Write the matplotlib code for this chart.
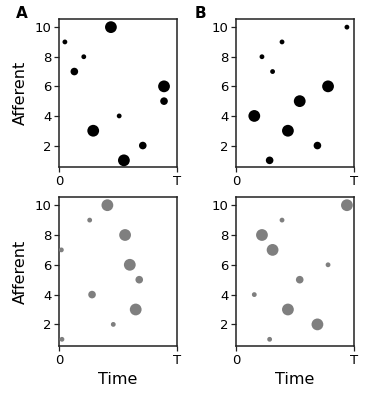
import matplotlib
matplotlib.use("Agg")
import matplotlib.pyplot as plt

# afferent index 1..10 for each panel
afferents = [10, 9, 8, 7, 6, 5, 4, 3, 2, 1]

# spike times as a fraction of T, read top (afferent 10) to bottom (afferent 1)
times_a_top = [0.44, 0.05, 0.21, 0.13, 0.89, 0.89, 0.51, 0.29, 0.71, 0.55]
times_b_top = [0.94, 0.39, 0.22, 0.31, 0.78, 0.54, 0.155, 0.44, 0.69, 0.285]
times_a_bot = [0.41, 0.26, 0.56, 0.02, 0.60, 0.68, 0.28, 0.65, 0.46, 0.025]
times_b_bot = [0.94, 0.39, 0.22, 0.31, 0.78, 0.54, 0.155, 0.44, 0.69, 0.285]

# amplitude level: 1 small, 2 medium, 3 large
level_a_top = [3, 1, 1, 2, 3, 2, 1, 3, 2, 3]
level_b_top = [1, 1, 1, 1, 3, 3, 3, 3, 2, 2]
level_a_bot = [3, 1, 3, 1, 3, 2, 2, 3, 1, 1]
level_b_bot = [3, 1, 3, 3, 1, 2, 1, 3, 3, 1]

SIZE = {1: 12, 2: 30, 3: 72}

fig = plt.figure(figsize=(3.74, 3.94), dpi=100)
W, H = 374.0, 394.0


def make_ax(left, right, top, bottom):
    return fig.add_axes([left / W, 1 - bottom / H, (right - left) / W, (bottom - top) / H])


panels = [
    (make_ax(59, 177, 19, 167), times_a_top, level_a_top, "black", True, False),
    (make_ax(236, 354, 19, 167), times_b_top, level_b_top, "black", False, False),
    (make_ax(59, 177, 197, 346), times_a_bot, level_a_bot, "#7f7f7f", True, True),
    (make_ax(236, 354, 197, 346), times_b_bot, level_b_bot, "#7f7f7f", False, True),
]

for ax, t, lv, col, ylab, xlab in panels:
    ax.scatter(t, afferents, s=[SIZE[v] for v in lv], color=col, linewidths=0, zorder=3)
    ax.set_xlim(0, 1)
    ax.set_ylim(0.55, 10.55)
    ax.set_xticks([0, 1])
    ax.set_xticklabels(["0", "T"])
    ax.set_yticks([2, 4, 6, 8, 10])
    ax.tick_params(labelsize=9.5, length=3.5, width=0.9, color="#222222", pad=2)
    for sp in ax.spines.values():
        sp.set_linewidth(1.1)
        sp.set_color("#222222")
    if ylab:
        ax.set_ylabel("Afferent", fontsize=11.5, labelpad=5)
    if xlab:
        ax.set_xlabel("Time", fontsize=11.5, labelpad=4)

fig.text(16 / W, 1 - 13 / H, "A", fontsize=11, fontweight="bold", ha="left", va="center")
fig.text(195 / W, 1 - 13 / H, "B", fontsize=11, fontweight="bold", ha="left", va="center")

fig.savefig("out.png", dpi=100)
